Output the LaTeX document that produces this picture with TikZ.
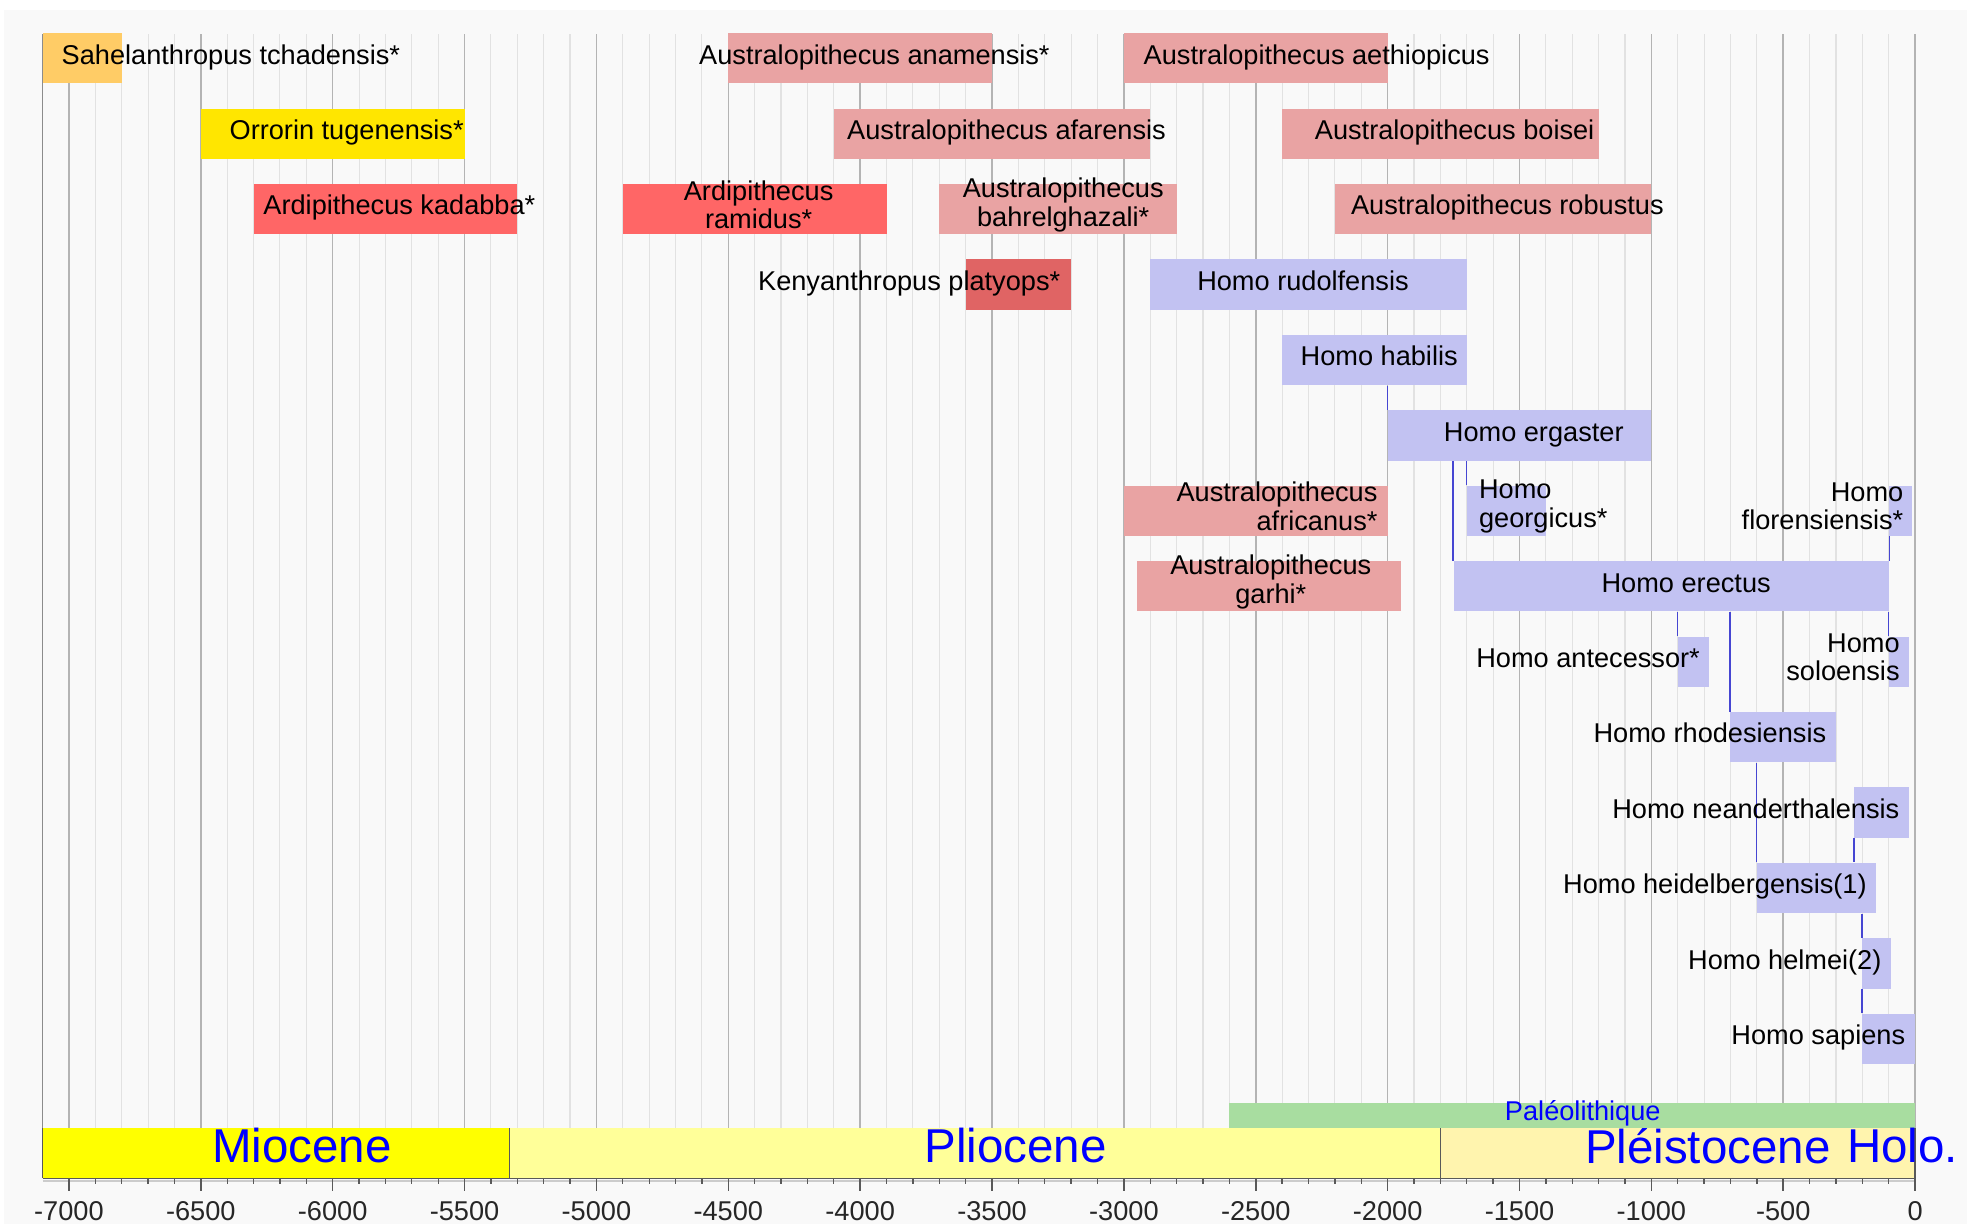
\documentclass[tikz,border=0pt]{standalone}
\usepackage{fontspec}
\setmainfont{Liberation Sans}
\usepackage{tikz}
\usepackage{xcolor}
\definecolor{sahelorange}{RGB}{255, 204, 102}
\definecolor{orroryellow}{RGB}{255, 230, 0}
\definecolor{ardired}{RGB}{255, 102, 102}
\definecolor{kenyared}{RGB}{224, 100, 100}
\definecolor{australpink}{RGB}{233, 163, 163}
\definecolor{homoblue}{RGB}{194, 194, 242}
\definecolor{linkblue}{RGB}{70, 70, 210}
\definecolor{plotgray}{RGB}{249, 249, 249}
\definecolor{gridmajor}{RGB}{180, 180, 180}
\definecolor{gridminor}{RGB}{226, 226, 226}
\definecolor{miocenefill}{RGB}{255, 255, 0}
\definecolor{pliocenefill}{RGB}{255, 255, 153}
\definecolor{pleistofill}{RGB}{255, 244, 174}
\definecolor{paleogreen}{RGB}{168, 221, 160}

\tikzset{
  agebar/.style={rectangle, inner sep=0pt, minimum height=0.8cm},
  taxon/.style={inner sep=0pt, font=\fontsize{12.3}{13}\selectfont, text=black,
    text height=0.72em, text depth=0.2em},
  taxontwo/.style={inner sep=0pt, font=\fontsize{12.3}{13}\selectfont, text=black},
  link/.style={linkblue, line width=0.6pt},
  epochname/.style={inner sep=0pt, font=\fontsize{21.5}{24}\selectfont, text=blue},
  ticklabel/.style={inner sep=0pt, font=\fontsize{12.3}{13}\selectfont, text=black!85},
}
\newcommand{\taxonbar}[5]{%
  \pgfmathsetmacro{\barwidth}{(#3-(#2))*0.004192}%
  \node[agebar, fill=#5, minimum width=\barwidth cm] (#1) at ({(#2+(#3))/2}, -#4) {};%
}

\begin{document}
\begin{tikzpicture}[x=0.004192cm, y=1.2cm]
\useasboundingbox (-7261.5,-16.457) rectangle (219.5,-0.2267);
\fill[white] (-7261.5,-16.457) rectangle (219.5,-0.2267);
\fill[plotgray] (-7247,-16.457) rectangle (198.5,-0.358);

\foreach \t in {-7000,-6900,...,0}
  \draw[gridminor, line width=0.5pt] (\t,-0.683) -- (\t,-15.85);
\foreach \t in {-7000,-6500,...,0}
  \draw[gridmajor, line width=0.7pt] (\t,-0.683) -- (\t,-15.85);
\draw[black!45, line width=0.7pt] (-7100,-0.683) -- (-7100,-15.85);

\taxonbar{sahel}{-7100}{-6800}{1}{sahelorange}
\taxonbar{anamensis}{-4500}{-3500}{1}{australpink}
\taxonbar{aethiopicus}{-3000}{-2000}{1}{australpink}
\taxonbar{orrorin}{-6500}{-5500}{2}{orroryellow}
\taxonbar{afarensis}{-4100}{-2900}{2}{australpink}
\taxonbar{boisei}{-2400}{-1200}{2}{australpink}
\taxonbar{kadabba}{-6300}{-5300}{3}{ardired}
\taxonbar{ramidus}{-4900}{-3900}{3}{ardired}
\taxonbar{bahrel}{-3700}{-2800}{3}{australpink}
\taxonbar{robustus}{-2200}{-1000}{3}{australpink}
\taxonbar{kenyan}{-3600}{-3200}{4}{kenyared}
\taxonbar{rudolf}{-2900}{-1700}{4}{homoblue}
\taxonbar{habilis}{-2400}{-1700}{5}{homoblue}
\taxonbar{ergaster}{-2000}{-1000}{6}{homoblue}
\taxonbar{africanus}{-3000}{-2000}{7}{australpink}
\taxonbar{georgicus}{-1700}{-1400}{7}{homoblue}
\taxonbar{flores}{-100}{-12}{7}{homoblue}
\taxonbar{garhi}{-2950}{-1950}{8}{australpink}
\taxonbar{erectus}{-1750}{-100}{8}{homoblue}
\taxonbar{antecessor}{-900}{-780}{9}{homoblue}
\taxonbar{solo}{-100}{-25}{9}{homoblue}
\taxonbar{rhodes}{-700}{-300}{10}{homoblue}
\taxonbar{neander}{-230}{-25}{11}{homoblue}
\taxonbar{heidel}{-600}{-147}{12}{homoblue}
\taxonbar{helmei}{-200}{-93}{13}{homoblue}
\taxonbar{sapiens}{-200}{0}{14}{homoblue}

\draw[link] (ergaster.north west) -- (ergaster.north west |- habilis.south);
\draw[link] (georgicus.north west) -- (georgicus.north west |- ergaster.south);
\draw[link] (erectus.north west) -- (erectus.north west |- ergaster.south);
\draw[link] (erectus.north east) -- (erectus.north east |- flores.south);
\draw[link] (antecessor.north west) -- (antecessor.north west |- erectus.south);
\draw[link] (rhodes.north west) -- (rhodes.north west |- erectus.south);
\draw[link] (solo.north west) -- (solo.north west |- erectus.south);
\draw[link] (heidel.north west) -- (heidel.north west |- rhodes.south);
\draw[link] (neander.south west) -- (neander.south west |- heidel.north);
\draw[link] (helmei.north west) -- (helmei.north west |- heidel.south);
\draw[link] (sapiens.north west) -- (sapiens.north west |- helmei.south);

\node[taxon] (sahel-l) at (-6386,-1) {Sahelanthropus tchadensis*};
\node[taxon] (anamensis-l) at (-3946,-1) {Australopithecus anamensis*};
\node[taxon] (aethiopicus-l) at (-2269,-1) {Australopithecus aethiopicus};
\node[taxon] (orrorin-l) at (-5947,-2) {Orrorin tugenensis*};
\node[taxon] (afarensis-l) at (-3445,-2) {Australopithecus afarensis};
\node[taxon] (boisei-l) at (-1746,-2) {Australopithecus boisei};
\node[taxon] (kadabba-l) at (-5747,-3) {Ardipithecus kadabba*};
\node[taxontwo, align=center] (ramidus-l) at (-4385,-2.94) {Ardipithecus\\ramidus*};
\node[taxontwo, align=center] (bahrel-l) at (-3230,-2.94) {Australopithecus\\bahrelghazali*};
\node[taxon] (robustus-l) at (-1546,-3) {Australopithecus robustus};
\node[taxon] (kenyan-l) at (-3814,-4) {Kenyanthropus platyops*};
\node[taxon] (rudolf-l) at (-2321,-4) {Homo rudolfensis};
\node[taxon] (habilis-l) at (-2032,-5) {Homo habilis};
\node[taxon] (ergaster-l) at (-1446,-6) {Homo ergaster};
\node[taxontwo, align=right, anchor=east] (africanus-l) at (-2037,-6.94) {Australopithecus\\africanus*};
\node[taxontwo, align=left, anchor=west] (georgicus-l) at (-1655,-6.94) {Homo\\georgicus*};
\node[taxontwo, align=right, anchor=east] (flores-l) at (-43,-6.94) {Homo\\florensiensis*};
\node[taxontwo, align=center] (garhi-l) at (-2443,-7.94) {Australopithecus\\garhi*};
\node[taxon] (erectus-l) at (-868,-8) {Homo erectus};
\node[taxon] (antecessor-l) at (-1240,-9) {Homo antecessor*};
\node[taxontwo, align=right, anchor=east] (solo-l) at (-57,-8.94) {Homo\\soloensis};
\node[taxon] (rhodes-l) at (-778,-10) {Homo rhodesiensis};
\node[taxon] (neander-l) at (-604,-11) {Homo neanderthalensis};
\node[taxon] (heidel-l) at (-759,-12) {Homo heidelbergensis(1)};
\node[taxon] (helmei-l) at (-494,-13) {Homo helmei(2)};
\node[taxon] (sapiens-l) at (-367,-14) {Homo sapiens};

\fill[paleogreen] (-2600,-14.85) rectangle (0,-15.183);
\fill[miocenefill] (-7100,-15.183) rectangle (-5330,-15.85);
\fill[pliocenefill] (-5330,-15.183) rectangle (-1800,-15.85);
\fill[pleistofill] (-1800,-15.183) rectangle (0,-15.85);
\foreach \t in {-7100,-5330,-1800,0}
  \draw[black!65, line width=0.6pt] (\t,-15.183) -- (\t,-15.85);
\node[taxon, text=blue] (paleo) at (-1260,-15.0) {Paléolithique};
\node[epochname] (miocene) at (-6116,-15.42) {Miocene};
\node[epochname] (pliocene) at (-3411,-15.42) {Pliocene};
\node[epochname] (pleisto) at (-786,-15.42) {Pléistocene};
\node[epochname] (holo) at (-47,-15.42) {Holo.};

\draw[black!20, line width=1.2pt] (-7100,-15.885) -- (0,-15.885);
\draw[black!65, line width=0.8pt] (-7100,-15.85) -- (0,-15.85);
\foreach \t in {-7000,-6900,...,0}
  \draw[black!65, line width=0.6pt] (\t,-15.85) -- (\t,-15.92);
\foreach \t in {-7000,-6500,...,0}{
  \draw[black!65, line width=0.7pt] (\t,-15.85) -- (\t,-16.02);
  \node[ticklabel] (tick\t) at (\t,-16.29) {\t};
}
\end{tikzpicture}
\end{document}
